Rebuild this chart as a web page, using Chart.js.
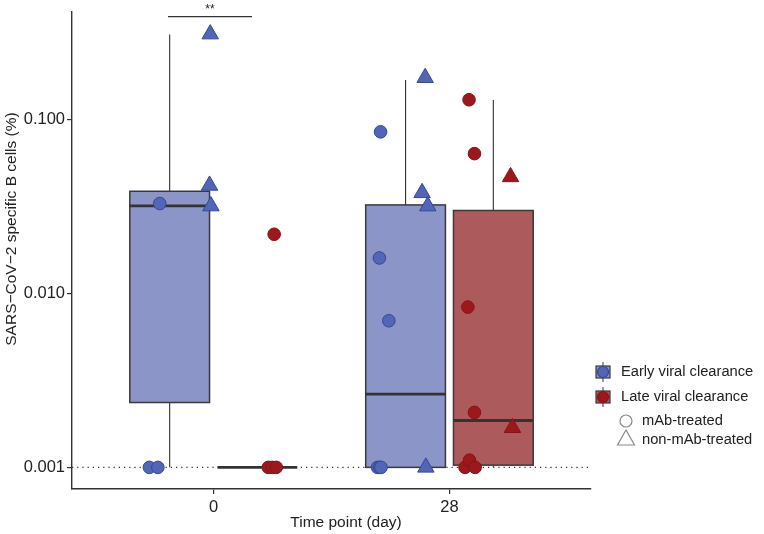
<!DOCTYPE html>
<html>
<head>
<meta charset="utf-8">
<script src="https://cdn.jsdelivr.net/npm/chart.js@4.4.1/dist/chart.umd.min.js"></script>
<style>
  html, body { margin: 0; padding: 0; background: #fff; }
  #wrap { width: 764px; height: 534px; position: relative; }
</style>
</head>
<body>
<div id="wrap"><canvas id="chart" width="764" height="534"></canvas></div>
<script>
// categories / ticks
const days = ['0', '28'];
const yTicks = [0.001, 0.01, 0.1];
const xTitle = 'Time point (day)';
const yTitle = 'SARS\u2212CoV\u22122 specific B cells (%)';

// box stats, one value per day (0, 28)
const earlyLow  = [0.001, 0.001];
const earlyQ1   = [0.00236, 0.001];
const earlyMed  = [0.0319, 0.00264];
const earlyQ3   = [0.0387, 0.0323];
const earlyHigh = [0.308, 0.169];

const lateLow  = [0.001, 0.001];
const lateQ1   = [0.001, 0.00103];
const lateMed  = [0.001, 0.00186];
const lateQ3   = [0.001, 0.0300];
const lateHigh = [0.001, 0.1297];

// individual samples: day index, jitter (in day-slot units), value
const earlyCircleDay = [0, 0, 0, 1, 1, 1, 1, 1, 1];
const earlyCircleJit = [-0.228, -0.272, -0.236, -0.292, -0.297, -0.257, -0.305, -0.296, -0.290];
const earlyCircleVal = [0.0329, 0.001, 0.001, 0.085, 0.016, 0.00697, 0.001, 0.001, 0.001];

const earlyTriDay = [0, 0, 0, 1, 1, 1, 1];
const earlyTriJit = [-0.014, -0.017, -0.011, -0.103, -0.116, -0.092, -0.100];
const earlyTriVal = [0.31, 0.0418, 0.0318, 0.174, 0.0379, 0.0318, 0.001];

const lateCircleDay = [0, 0, 0, 0, 1, 1, 1, 1, 1, 1, 1];
const lateCircleJit = [0.257, 0.232, 0.249, 0.266, 0.083, 0.106, 0.078, 0.106, 0.066, 0.085, 0.109];
const lateCircleVal = [0.0219, 0.001, 0.001, 0.001, 0.13, 0.0637, 0.00835, 0.00207, 0.001, 0.0011, 0.001];

const lateTriDay = [1, 1];
const lateTriJit = [0.259, 0.267];
const lateTriVal = [0.0468, 0.00169];

// significance bracket at day 0
const sigFrom = -0.193, sigTo = 0.163, sigY = 0.391, sigLabel = '**';
const detectionLimit = 0.001;

const earlyPt = '#5366b6', earlyPtLine = '#34479a', earlyFill = '#8c95c7';
const latePt = '#9b191c', latePtLine = '#861316', lateFill = '#ad5a5c';
const ink = '#333333';
const FONT = "'Liberation Sans', Arial, sans-serif";
const dodge = 0.186, halfW = 0.169;

function pts(day, jit, val) {
    return day.map((d, i) => ({ x: d + jit[i], y: val[i] }));
}

const boxPlugin = {
    id: 'boxes',
    beforeDatasetsDraw(chart) {
        const ctx = chart.ctx;
        const xs = chart.scales.x, ys = chart.scales.y;
        const area = chart.chartArea;
        ctx.save();
        // detection limit dotted line
        ctx.strokeStyle = ink;
        ctx.lineWidth = 1.2;
        ctx.setLineDash([1.2, 4]);
        const yl = ys.getPixelForValue(detectionLimit);
        ctx.beginPath();
        ctx.moveTo(area.left, yl);
        ctx.lineTo(area.right - 3, yl);
        ctx.stroke();
        ctx.setLineDash([]);

        const groups = [
            { off: -dodge, fill: earlyFill, lo: earlyLow, q1: earlyQ1, med: earlyMed, q3: earlyQ3, hi: earlyHigh },
            { off: dodge, fill: lateFill, lo: lateLow, q1: lateQ1, med: lateMed, q3: lateQ3, hi: lateHigh }
        ];
        groups.forEach(g => {
            days.forEach((d, i) => {
                const c = i + g.off;
                const xc = xs.getPixelForValue(c);
                const x0 = xs.getPixelForValue(c - halfW);
                const x1 = xs.getPixelForValue(c + halfW);
                const yq1 = ys.getPixelForValue(g.q1[i]);
                const yq3 = ys.getPixelForValue(g.q3[i]);
                const ymed = ys.getPixelForValue(g.med[i]);
                const ylo = ys.getPixelForValue(g.lo[i]);
                const yhi = ys.getPixelForValue(g.hi[i]);
                // whiskers
                ctx.strokeStyle = ink;
                ctx.lineWidth = 1.1;
                ctx.beginPath();
                ctx.moveTo(xc, yq3); ctx.lineTo(xc, yhi);
                ctx.moveTo(xc, yq1); ctx.lineTo(xc, ylo);
                ctx.stroke();
                // box
                if (yq1 - yq3 > 0.5) {
                    ctx.fillStyle = g.fill;
                    ctx.fillRect(x0, yq3, x1 - x0, yq1 - yq3);
                    ctx.lineWidth = 1.5;
                    ctx.strokeStyle = '#3a3a3a';
                    ctx.strokeRect(x0, yq3, x1 - x0, yq1 - yq3);
                }
                // median
                ctx.lineWidth = 2.8;
                ctx.strokeStyle = ink;
                ctx.beginPath();
                ctx.moveTo(x0, ymed); ctx.lineTo(x1, ymed);
                ctx.stroke();
            });
        });
        ctx.restore();
    },
    afterDraw(chart) {
        const ctx = chart.ctx;
        const xs = chart.scales.x, ys = chart.scales.y;
        ctx.save();
        // significance bracket
        const by = ys.getPixelForValue(sigY);
        const bx0 = xs.getPixelForValue(sigFrom), bx1 = xs.getPixelForValue(sigTo);
        ctx.strokeStyle = ink;
        ctx.lineWidth = 1.2;
        ctx.beginPath();
        ctx.moveTo(bx0, by); ctx.lineTo(bx1, by);
        ctx.stroke();
        ctx.fillStyle = '#222';
        ctx.font = '12px ' + FONT;
        ctx.textAlign = 'center';
        ctx.textBaseline = 'middle';
        ctx.fillText(sigLabel, (bx0 + bx1) / 2, by - 7);

        // axis titles
        ctx.font = '15.5px ' + FONT;
        ctx.fillText(xTitle, 346, 523);
        ctx.save();
        ctx.translate(12, 229);
        ctx.rotate(-Math.PI / 2);
        ctx.fillText(yTitle, 0, 0);
        ctx.restore();

        // legend
        const lx = 603, ly0 = 372, step = 25;
        ctx.font = '14.7px ' + FONT;
        ctx.textAlign = 'left';
        ctx.textBaseline = 'middle';
        [[earlyFill, earlyPt, earlyPtLine, 'Early viral clearance'],
         [lateFill, latePt, latePtLine, 'Late viral clearance']].forEach((it, k) => {
            const cy = ly0 + k * step;
            ctx.strokeStyle = ink;
            ctx.lineWidth = 1;
            ctx.beginPath();
            ctx.moveTo(lx, cy - 10); ctx.lineTo(lx, cy + 10);
            ctx.stroke();
            ctx.fillStyle = it[0];
            ctx.fillRect(lx - 7, cy - 6, 14, 12);
            ctx.lineWidth = 1.2;
            ctx.strokeStyle = '#3a3a3a';
            ctx.strokeRect(lx - 7, cy - 6, 14, 12);
            ctx.fillStyle = it[1];
            ctx.strokeStyle = it[2];
            ctx.beginPath();
            ctx.arc(lx, cy, 5.5, 0, Math.PI * 2);
            ctx.fill();
            ctx.stroke();
            ctx.fillStyle = '#222';
            ctx.fillText(it[3], 621, cy);
        });
        ctx.strokeStyle = '#8a8a8a';
        ctx.lineWidth = 1.2;
        ctx.beginPath();
        ctx.arc(626, 421, 6, 0, Math.PI * 2);
        ctx.stroke();
        ctx.beginPath();
        ctx.moveTo(626, 430); ctx.lineTo(634.5, 445); ctx.lineTo(617.5, 445); ctx.closePath();
        ctx.stroke();
        ctx.fillStyle = '#222';
        ctx.fillText('mAb-treated', 642, 421);
        ctx.fillText('non-mAb-treated', 642, 440);
        ctx.restore();
    }
};

const pointDs = (label, data, fill, line, style, r) => ({
    label: label,
    data: data,
    pointStyle: style,
    pointRadius: r,
    pointBackgroundColor: fill,
    pointBorderColor: line,
    pointBorderWidth: 1,
    clip: false
});

new Chart(document.getElementById('chart'), {
    type: 'scatter',
    data: {
        datasets: [
            pointDs('Early mAb', pts(earlyCircleDay, earlyCircleJit, earlyCircleVal), earlyPt, earlyPtLine, 'circle', 6.3),
            pointDs('Early non-mAb', pts(earlyTriDay, earlyTriJit, earlyTriVal), earlyPt, earlyPtLine, 'triangle', 9.5),
            pointDs('Late mAb', pts(lateCircleDay, lateCircleJit, lateCircleVal), latePt, latePtLine, 'circle', 6.3),
            pointDs('Late non-mAb', pts(lateTriDay, lateTriJit, lateTriVal), latePt, latePtLine, 'triangle', 9.5)
        ]
    },
    options: {
        responsive: false,
        animation: false,
        events: [],
        layout: { padding: { top: 10, right: 173, left: 0, bottom: 0 } },
        plugins: { legend: { display: false }, tooltip: { enabled: false } },
        scales: {
            x: {
                type: 'linear',
                min: -0.6,
                max: 1.6,
                afterFit: s => { s.height = 45; },
                afterBuildTicks: s => { s.ticks = days.map((d, i) => ({ value: i })); },
                ticks: {
                    callback: v => days[v],
                    color: '#222',
                    font: { family: FONT, size: 16.5 },
                    padding: 4
                },
                grid: { display: true, drawOnChartArea: false, drawTicks: true, tickLength: 5, color: ink, lineWidth: 1.2 },
                border: { display: true, color: ink, width: 1.4 },
                title: { display: false, text: xTitle }
            },
            y: {
                type: 'logarithmic',
                min: 0.000751,
                max: 0.416,
                afterFit: s => { s.width = 72; },
                afterBuildTicks: s => { s.ticks = yTicks.map(v => ({ value: v })); },
                ticks: {
                    callback: v => Number(v).toFixed(3),
                    color: '#222',
                    font: { family: FONT, size: 16.5 },
                    padding: 2
                },
                grid: { display: true, drawOnChartArea: false, drawTicks: true, tickLength: 5, color: ink, lineWidth: 1.2 },
                border: { display: true, color: ink, width: 1.4 },
                title: { display: false, text: yTitle }
            }
        }
    },
    plugins: [boxPlugin]
});
</script>
</body>
</html>
